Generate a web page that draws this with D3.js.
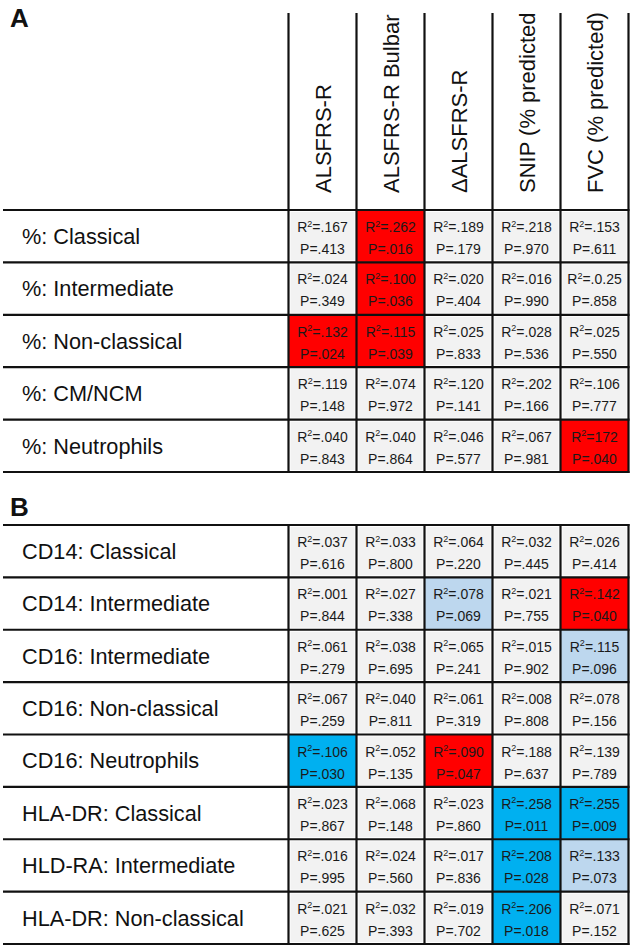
<!DOCTYPE html>
<html><head><meta charset="utf-8">
<script src="https://cdn.jsdelivr.net/npm/d3@7"></script>
<style>body{margin:0;background:#fff}svg{display:block}text{font-family:"Liberation Sans",Arial,sans-serif}</style>
</head><body>
<svg id="c" width="633" height="950"></svg>
<script>
const columns = ["ALSFRS-R", "ALSFRS-R Bulbar", "\u0394ALSFRS-R", "SNIP (% predicted", "FVC (% predicted)"];

const rowsA = ["%: Classical", "%: Intermediate", "%: Non-classical", "%: CM/NCM", "%: Neutrophils"];
const r2A = [
  [".167", ".262", ".189", ".218", ".153"],
  [".024", ".100", ".020", ".016", ".0.25"],
  [".132", ".115", ".025", ".028", ".025"],
  [".119", ".074", ".120", ".202", ".106"],
  [".040", ".040", ".046", ".067", "172"]
];
const pA = [
  [".413", ".016", ".179", ".970", ".611"],
  [".349", ".036", ".404", ".990", ".858"],
  [".024", ".039", ".833", ".536", ".550"],
  [".148", ".972", ".141", ".166", ".777"],
  [".843", ".864", ".577", ".981", ".040"]
];
const flagA = [
  ["", "r", "", "", ""],
  ["", "r", "", "", ""],
  ["r", "r", "", "", ""],
  ["", "", "", "", ""],
  ["", "", "", "", "r"]
];

const rowsB = ["CD14: Classical", "CD14: Intermediate", "CD16: Intermediate", "CD16: Non-classical", "CD16: Neutrophils", "HLA-DR: Classical", "HLD-RA: Intermediate", "HLA-DR: Non-classical"];
const r2B = [
  [".037", ".033", ".064", ".032", ".026"],
  [".001", ".027", ".078", ".021", ".142"],
  [".061", ".038", ".065", ".015", ".115"],
  [".067", ".040", ".061", ".008", ".078"],
  [".106", ".052", ".090", ".188", ".139"],
  [".023", ".068", ".023", ".258", ".255"],
  [".016", ".024", ".017", ".208", ".133"],
  [".021", ".032", ".019", ".206", ".071"]
];
const pB = [
  [".616", ".800", ".220", ".445", ".414"],
  [".844", ".338", ".069", ".755", ".040"],
  [".279", ".695", ".241", ".902", ".096"],
  [".259", ".811", ".319", ".808", ".156"],
  [".030", ".135", ".047", ".637", ".789"],
  [".867", ".148", ".860", ".011", ".009"],
  [".995", ".560", ".836", ".028", ".073"],
  [".625", ".393", ".702", ".018", ".152"]
];
const flagB = [
  ["", "", "", "", ""],
  ["", "", "l", "", "r"],
  ["", "", "", "", "l"],
  ["", "", "", "", ""],
  ["b", "", "r", "", ""],
  ["", "", "", "b", "b"],
  ["", "", "", "b", "l"],
  ["", "", "", "b", ""]
];

const fillColor = {"": "#f2f2f2", r: "#ff0000", b: "#00b0f0", l: "#bdd7ee"};

const svg = d3.select("#c");
const x = d3.scaleBand().domain(columns).range([288.5, 628.5]);
const leftX = 3, rightX = 629.5;

function drawTable(rows, r2, p, flags, y0, y1, headerTop) {
  const y = d3.scaleBand().domain(rows).range([y0, y1]);
  const g = svg.append("g");
  rows.forEach((rw, i) => {
    columns.forEach((c, j) => {
      const f = flags[i][j];
      const inset = f === "" ? 2 : 0.5;
      g.append("rect")
        .attr("x", x(c) + inset).attr("y", y(rw) + inset)
        .attr("width", x.bandwidth() - 2 * inset).attr("height", y.bandwidth() - 2 * inset)
        .attr("fill", fillColor[f]);
      const cx = x(c) + x.bandwidth() / 2;
      const t1 = g.append("text").attr("x", cx).attr("y", y(rw) + 22)
        .attr("text-anchor", "middle").attr("font-size", 14).attr("fill", "#1a1a1a");
      t1.append("tspan").text("R");
      t1.append("tspan").attr("font-size", 9).attr("dy", -5.5).text("2");
      t1.append("tspan").attr("dy", 5.5).text("=" + r2[i][j]);
      g.append("text").attr("x", cx).attr("y", y(rw) + 44)
        .attr("text-anchor", "middle").attr("font-size", 14).attr("fill", "#1a1a1a")
        .text("P=" + p[i][j]);
    });
    g.append("text").attr("x", 22).attr("y", y(rw) + y.bandwidth() / 2 + 7.8)
      .attr("font-size", 21.7).attr("fill", "#111").text(rw);
  });
  const hs = rows.map(r => y(r)).concat([y1]);
  g.selectAll("line.h").data(hs).enter().append("line")
    .attr("x1", leftX).attr("x2", rightX).attr("y1", d => d).attr("y2", d => d)
    .attr("stroke", "#111").attr("stroke-width", 2.2);
  const vs = columns.map(c => x(c)).concat([x(columns[columns.length - 1]) + x.bandwidth()]);
  g.selectAll("line.v").data(vs).enter().append("line")
    .attr("x1", d => d).attr("x2", d => d).attr("y1", headerTop).attr("y2", y1 + 1)
    .attr("stroke", "#111").attr("stroke-width", 2.2);
}

drawTable(rowsA, r2A, pA, flagA, 210, 472, 13);
drawTable(rowsB, r2B, pB, flagB, 525, 944, 524);

svg.append("g").selectAll("text").data(columns).enter().append("text")
  .attr("transform", d => `translate(${x(d) + x.bandwidth() / 2 + 8},193) rotate(-90)`)
  .attr("font-size", 22).attr("fill", "#111").text(d => d);

svg.append("text").attr("x", 10).attr("y", 27).attr("font-size", 26).attr("font-weight", "bold").attr("fill", "#111").text("A");
svg.append("text").attr("x", 10).attr("y", 516).attr("font-size", 26).attr("font-weight", "bold").attr("fill", "#111").text("B");
</script>
</body></html>
